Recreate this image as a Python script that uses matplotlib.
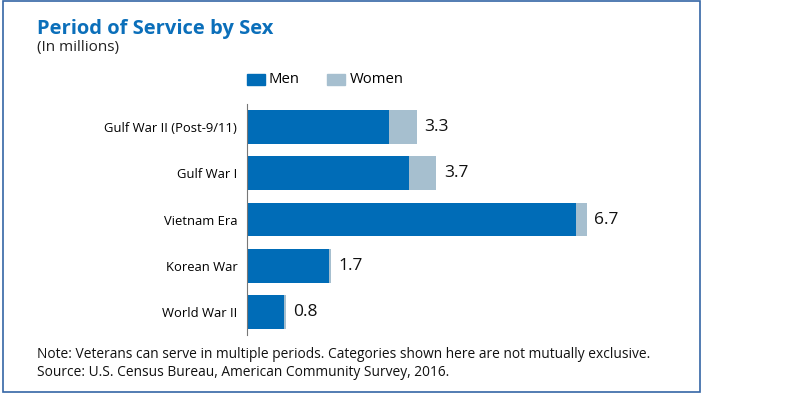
import matplotlib
matplotlib.use("Agg")
import matplotlib.pyplot as plt
from matplotlib.patches import Rectangle
import numpy as np

# data (millions)
periods = ["Gulf War II (Post-9/11)", "Gulf War I", "Vietnam Era", "Korean War", "World War II"]
men = [2.8, 3.2, 6.48, 1.61, 0.73]
women = [0.55, 0.53, 0.22, 0.04, 0.03]
totals = ["3.3", "3.7", "6.7", "1.7", "0.8"]

MEN_C = "#006cb7"
WOMEN_C = "#a6bfcf"
BLUE = "#0b6fba"

plt.rcParams['font.family'] = ['Open Sans', 'DejaVu Sans']

fig = plt.figure(figsize=(8, 3.93), dpi=100)

# outer frame
fig.patches.append(Rectangle((2.5 / 800, 1 - 391.5 / 393), 697 / 800, 390.5 / 393,
                             transform=fig.transFigure, fill=False,
                             edgecolor="#3566a6", linewidth=1.2))

fig.text(37 / 800, 1 - 29 / 393, "Period of Service by Sex", fontsize=14.5,
         fontweight="bold", color=BLUE, va="center", ha="left")
fig.text(37 / 800, 1 - 47 / 393, "(In millions)", fontsize=11, color="#222222",
         va="center", ha="left")

ax = fig.add_axes([247 / 800, 1 - 335 / 393, 405.6 / 800, 231 / 393])
y = np.arange(len(periods))
ax.barh(y, men, height=0.73, color=MEN_C, label="Men")
ax.barh(y, women, left=men, height=0.73, color=WOMEN_C, label="Women")
for i, t in enumerate(totals):
    ax.text(men[i] + women[i] + 0.15, y[i], t, fontsize=12.5, va="center",
            ha="left", color="#111111")

ax.set_xlim(0, 8)
ax.set_ylim(len(periods) - 0.5, -0.5)
ax.set_yticks(y)
ax.set_yticklabels(periods, fontsize=9.4, color="#000000")
ax.tick_params(axis="y", length=0, pad=7)
ax.set_xticks([])
for s in ["top", "right", "bottom"]:
    ax.spines[s].set_visible(False)
ax.spines["left"].set_color("#777777")
ax.spines["left"].set_linewidth(0.8)

# legend
fig.patches.append(Rectangle((247 / 800, 1 - 85 / 393), 18 / 800, 11 / 393,
                             transform=fig.transFigure, color=MEN_C))
fig.text(269 / 800, 1 - 79.5 / 393, "Men", fontsize=10.7, va="center", ha="left")
fig.patches.append(Rectangle((327 / 800, 1 - 85 / 393), 18 / 800, 11 / 393,
                             transform=fig.transFigure, color=WOMEN_C))
fig.text(350 / 800, 1 - 79.5 / 393, "Women", fontsize=10.7, va="center", ha="left")

fig.text(37 / 800, 1 - 354 / 393,
         "Note: Veterans can serve in multiple periods. Categories shown here are not mutually exclusive.",
         fontsize=9.9, va="center", ha="left", color="#111111")
fig.text(37 / 800, 1 - 372 / 393,
         "Source: U.S. Census Bureau, American Community Survey, 2016.",
         fontsize=9.9, va="center", ha="left", color="#111111")

fig.savefig("out.png", dpi=100)
